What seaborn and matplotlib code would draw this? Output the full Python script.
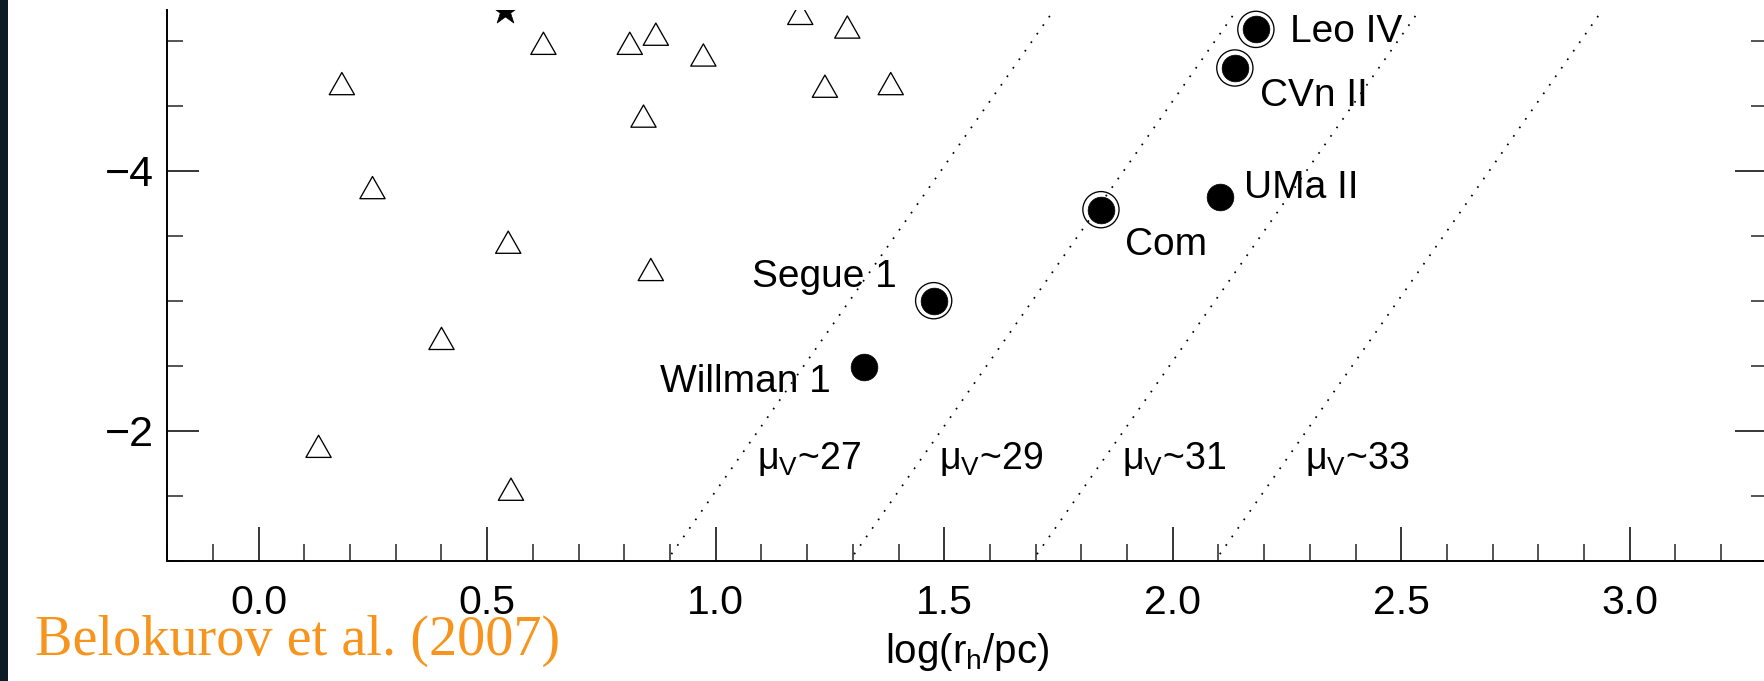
import matplotlib
matplotlib.use("Agg")
import numpy as np
import pandas as pd
import matplotlib.pyplot as plt
import seaborn as sns
from matplotlib.patches import Rectangle
from matplotlib.path import Path
from matplotlib.ticker import MultipleLocator

# ---- data -------------------------------------------------------------
# comparison objects (open triangles): log(r_h/pc), M_V
tri_logr = [0.182, 0.623, 0.249, 0.546, 0.400, 0.131, 0.552, 0.812,
            0.869, 0.973, 1.185, 1.288, 1.239, 1.383, 0.842, 0.858]
tri_mv = [-4.67, -4.98, -3.87, -3.45, -2.71, -1.88, -1.55, -4.98,
          -5.05, -4.89, -5.21, -5.105, -4.65, -4.67, -4.42, -3.24]

star_logr = [0.539]
star_mv = [-5.23]

# new Milky Way satellites (filled circles)
dwarf_names = ["Leo IV", "CVn II", "UMa II", "Com", "Segue 1", "Willman 1"]
dwarf_logr = [2.182, 2.136, 2.103, 1.843, 1.477, 1.324]
dwarf_mv = [-5.087, -4.79, -3.795, -3.70, -3.00, -2.49]
dwarf_ringed = [True, True, False, True, True, False]

# lines of constant surface brightness
mu_levels = [27, 29, 31, 33]
MU_OFFSET = 23.535          # mu_V = M_V + MU_OFFSET + 5 log(r_h/pc)
MU_LABEL_MV = -1.708

x_ticks = [0.0, 0.5, 1.0, 1.5, 2.0, 2.5, 3.0]
y_ticks = [-4, -2]

# ---- figure -------------------------------------------------------------
sns.set_style("ticks")
plt.rcParams["font.family"] = ["Liberation Sans", "DejaVu Sans"]
plt.rcParams["mathtext.default"] = "regular"
plt.rcParams["axes.unicode_minus"] = True

DPI = 100
fig = plt.figure(figsize=(17.64, 6.81), dpi=DPI)
fig.patch.set_facecolor("white")
ax = fig.add_axes([0.09484, 0.17665, 0.90675, 0.80866])
ax.set_facecolor("white")

xmin, xmax = -0.2, 3.3
ax.set_xlim(xmin, xmax)
ax.set_ylim(-1.0, -5.236)

# iso-surface-brightness lines
for mu in mu_levels:
    xs = np.array([xmin, xmax])
    seg = pd.DataFrame({"logr": xs, "mv": mu - MU_OFFSET - 5 * xs})
    sns.lineplot(data=seg, x="logr", y="mv", ax=ax, color="black",
                 linewidth=1.25, linestyle=(0, (1.0, 5.0)), sort=False,
                 estimator=None, zorder=1)
    x_lab = (mu - MU_OFFSET - MU_LABEL_MV) / 5
    ax.annotate(f"μ$_{{V}}$~{mu}", xy=(x_lab, MU_LABEL_MV),
                xytext=(18, 0), textcoords="offset points",
                ha="left", va="baseline", fontsize=27, color="black")

# open triangles
tri_path = Path([(0, 0.88), (-1, -0.88), (1, -0.88), (0, 0.88)],
                [Path.MOVETO, Path.LINETO, Path.LINETO, Path.CLOSEPOLY])
sns.scatterplot(x=tri_logr, y=tri_mv, ax=ax, marker=tri_path, s=330,
                facecolor="none", edgecolor="black", linewidth=0.95,
                zorder=3, legend=False)

# star
sns.scatterplot(x=star_logr, y=star_mv, ax=ax, marker="*", s=420,
                color="black", edgecolor="black", linewidth=0.5,
                zorder=3, legend=False)

# satellites: filled dot, plus ring where flagged
sns.scatterplot(x=dwarf_logr, y=dwarf_mv, ax=ax, marker="o", s=370,
                color="black", edgecolor="black", linewidth=0.5,
                zorder=4, legend=False)
ring_x = [x for x, r in zip(dwarf_logr, dwarf_ringed) if r]
ring_y = [y for y, r in zip(dwarf_mv, dwarf_ringed) if r]
sns.scatterplot(x=ring_x, y=ring_y, ax=ax, marker="o", s=680,
                facecolor="none", edgecolor="black", linewidth=0.95,
                zorder=4, legend=False)

# name labels: (dx, dy) in points, horizontal alignment
label_style = {
    "Leo IV": (24.7, -9.1, "left"),
    "CVn II": (18.0, -27.4, "left"),
    "UMa II": (17.3, -0.2, "left"),
    "Com": (17.3, -32.9, "left"),
    "Segue 1": (-26.6, 10.1, "right"),
    "Willman 1": (-23.8, -18.0, "right"),
}
for name, x, y in zip(dwarf_names, dwarf_logr, dwarf_mv):
    dx, dy, ha = label_style[name]
    ax.annotate(name, xy=(x, y), xytext=(dx, dy), textcoords="offset points",
                ha=ha, va="baseline", fontsize=28, color="black", zorder=5)

# axes styling
for side in ["left", "bottom", "right"]:
    ax.spines[side].set_linewidth(1.4)
    ax.spines[side].set_color("black")
ax.spines["top"].set_visible(False)

ax.xaxis.set_minor_locator(MultipleLocator(0.1))
ax.yaxis.set_minor_locator(MultipleLocator(0.5))
ax.set_xticks(x_ticks)
ax.set_xticklabels([f"{v:.1f}" for v in x_ticks])
ax.set_yticks(y_ticks)
ax.set_yticklabels([f"\u2212{abs(v)}" for v in y_ticks])

ax.tick_params(axis="x", which="major", direction="in", length=24.5,
               width=1.1, top=False, bottom=True, labelsize=29.5, pad=17,
               colors="black")
ax.tick_params(axis="x", which="minor", direction="in", length=12.2,
               width=1.1, top=False, bottom=True)
ax.tick_params(axis="y", which="major", direction="in", length=23,
               width=1.1, left=True, right=True, labelsize=31, pad=10,
               colors="black")
ax.tick_params(axis="y", which="minor", direction="in", length=11.5,
               width=1.1, left=True, right=True)

ax.set_xlabel("log(r$_{h}$/pc)", fontsize=29, labelpad=6, color="black")
ax.set_ylabel("")

# dark slide border on the left edge
fig.patches.append(Rectangle((0, 0), 8 / 1764, 1, transform=fig.transFigure,
                             facecolor="#0c1b24", edgecolor="none", zorder=10))

# citation
fig.text(35 / 1764, 26 / 681, "Belokurov et al. (2007)", color="#F7941D",
         fontsize=40.5, family=["Liberation Serif", "DejaVu Serif"],
         ha="left", va="baseline", zorder=11)

fig.savefig("out.png", dpi=DPI, facecolor="white")
